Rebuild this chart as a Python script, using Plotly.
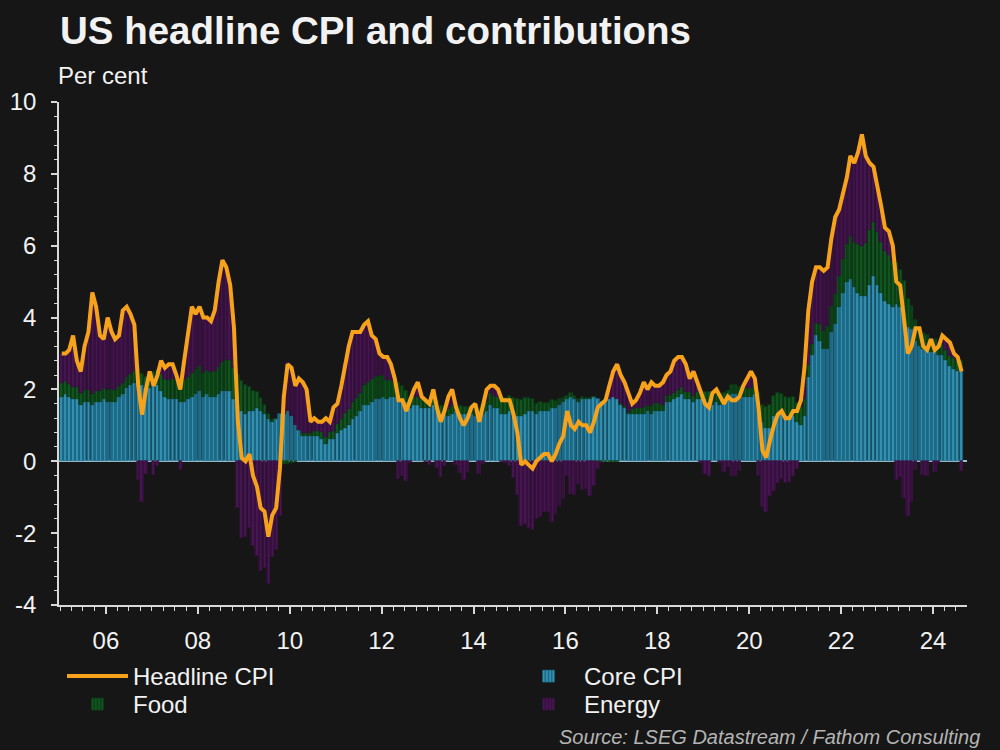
import pandas as pd
import plotly.graph_objects as go

# Monthly data, Jan 2005 - Aug 2024 (per cent, year-on-year)
headline = [
    3.0, 3.0, 3.1, 3.5, 2.8, 2.5, 3.2, 3.6, 4.7, 4.3, 3.5, 3.4,
    4.0, 3.6, 3.4, 3.5, 4.2, 4.3, 4.1, 3.8, 2.1, 1.3, 2.0, 2.5,
    2.1, 2.4, 2.8, 2.6, 2.7, 2.7, 2.4, 2.0, 2.8, 3.5, 4.3, 4.1,
    4.3, 4.0, 4.0, 3.9, 4.2, 5.0, 5.6, 5.4, 4.9, 3.7, 1.1, 0.1,
    0.0, 0.2, -0.4, -0.7, -1.3, -1.4, -2.1, -1.5, -1.3, -0.2, 1.8, 2.7,
    2.6, 2.1, 2.3, 2.2, 2.0, 1.1, 1.2, 1.1, 1.1, 1.2, 1.1, 1.5,
    1.6, 2.1, 2.7, 3.2, 3.6, 3.6, 3.6, 3.8, 3.9, 3.5, 3.4, 3.0,
    2.9, 2.9, 2.7, 2.3, 1.7, 1.7, 1.4, 1.7, 2.0, 2.2, 1.8, 1.7,
    1.6, 2.0, 1.5, 1.1, 1.4, 1.8, 2.0, 1.5, 1.2, 1.0, 1.2, 1.5,
    1.6, 1.1, 1.5, 2.0, 2.1, 2.1, 2.0, 1.7, 1.7, 1.7, 1.3, 0.8,
    -0.1, 0.0, -0.1, -0.2, 0.0, 0.1, 0.2, 0.2, 0.0, 0.2, 0.5, 0.7,
    1.4, 1.0, 0.9, 1.1, 1.0, 1.0, 0.8, 1.1, 1.5, 1.6, 1.7, 2.1,
    2.5, 2.7, 2.4, 2.2, 1.9, 1.6, 1.7, 1.9, 2.2, 2.0, 2.2, 2.1,
    2.1, 2.2, 2.4, 2.5, 2.8, 2.9, 2.9, 2.7, 2.3, 2.5, 2.2, 1.9,
    1.6, 1.5, 1.9, 2.0, 1.8, 1.6, 1.8, 1.7, 1.7, 1.8, 2.1, 2.3,
    2.5, 2.3, 1.5, 0.3, 0.1, 0.6, 1.0, 1.3, 1.4, 1.2, 1.2, 1.4,
    1.4, 1.7, 2.6, 4.2, 5.0, 5.4, 5.4, 5.3, 5.4, 6.2, 6.8, 7.0,
    7.5, 7.9, 8.5, 8.3, 8.6, 9.1, 8.5, 8.3, 8.2, 7.7, 7.1, 6.5,
    6.4, 6.0, 5.0, 4.9, 4.0, 3.0, 3.2, 3.7, 3.7, 3.2, 3.1, 3.4,
    3.1, 3.2, 3.5, 3.4, 3.3, 3.0, 2.9, 2.5,
]

core = [
    1.79, 1.87, 1.79, 1.72, 1.72, 1.56, 1.64, 1.64, 1.56, 1.64, 1.64, 1.72,
    1.64, 1.64, 1.64, 1.79, 1.87, 2.03, 2.11, 2.18, 2.26, 2.11, 2.03, 2.03,
    2.11, 2.11, 1.95, 1.79, 1.72, 1.72, 1.72, 1.64, 1.64, 1.72, 1.79, 1.87,
    1.95, 1.79, 1.87, 1.79, 1.79, 1.87, 1.95, 1.95, 1.95, 1.72, 1.56, 1.40,
    1.33, 1.40, 1.40, 1.48, 1.40, 1.33, 1.17, 1.09, 1.17, 1.33, 1.33, 1.40,
    1.25, 1.01, 0.86, 0.70, 0.70, 0.70, 0.70, 0.70, 0.62, 0.47, 0.62, 0.62,
    0.78, 0.86, 0.94, 1.01, 1.17, 1.25, 1.40, 1.56, 1.56, 1.64, 1.72, 1.72,
    1.79, 1.72, 1.79, 1.79, 1.79, 1.72, 1.64, 1.48, 1.56, 1.56, 1.48, 1.48,
    1.48, 1.56, 1.48, 1.33, 1.33, 1.25, 1.33, 1.40, 1.33, 1.33, 1.33, 1.33,
    1.25, 1.25, 1.33, 1.40, 1.56, 1.48, 1.48, 1.33, 1.33, 1.40, 1.33, 1.25,
    1.25, 1.33, 1.40, 1.40, 1.33, 1.40, 1.40, 1.40, 1.48, 1.48, 1.56, 1.64,
    1.72, 1.79, 1.72, 1.64, 1.72, 1.72, 1.72, 1.79, 1.72, 1.64, 1.64, 1.72,
    1.79, 1.72, 1.56, 1.48, 1.33, 1.33, 1.33, 1.33, 1.33, 1.40, 1.33, 1.40,
    1.40, 1.40, 1.64, 1.64, 1.72, 1.79, 1.87, 1.72, 1.72, 1.64, 1.72, 1.72,
    1.72, 1.64, 1.56, 1.64, 1.56, 1.64, 1.72, 1.87, 1.87, 1.79, 1.79, 1.79,
    1.79, 1.87, 1.64, 1.09, 0.94, 0.94, 1.25, 1.33, 1.33, 1.25, 1.25, 1.25,
    1.09, 1.01, 1.25, 2.34, 2.96, 3.51, 3.35, 3.12, 3.12, 3.59, 3.82, 4.29,
    4.68, 4.99, 5.07, 4.84, 4.68, 4.60, 4.60, 4.91, 5.15, 4.91, 4.68, 4.45,
    4.37, 4.29, 4.37, 4.29, 4.13, 3.74, 3.67, 3.35, 3.20, 3.12, 3.12, 3.04,
    3.04, 2.96, 2.96, 2.81, 2.65, 2.57, 2.50, 2.50,
]

food = [
    0.38, 0.36, 0.35, 0.36, 0.35, 0.34, 0.34, 0.35, 0.31, 0.32, 0.32, 0.32,
    0.35, 0.36, 0.34, 0.31, 0.31, 0.32, 0.31, 0.32, 0.36, 0.32, 0.31, 0.31,
    0.38, 0.42, 0.48, 0.50, 0.55, 0.57, 0.56, 0.59, 0.63, 0.62, 0.66, 0.69,
    0.69, 0.66, 0.66, 0.70, 0.71, 0.76, 0.81, 0.87, 0.88, 0.87, 0.85, 0.83,
    0.78, 0.67, 0.57, 0.46, 0.36, 0.25, 0.15, 0.07, 0.01, -0.04, -0.08, -0.07,
    -0.06, -0.01, 0.00, 0.08, 0.10, 0.10, 0.13, 0.14, 0.20, 0.20, 0.20, 0.21,
    0.25, 0.32, 0.41, 0.45, 0.49, 0.52, 0.50, 0.57, 0.64, 0.66, 0.64, 0.66,
    0.62, 0.55, 0.46, 0.43, 0.39, 0.38, 0.32, 0.28, 0.22, 0.24, 0.25, 0.25,
    0.22, 0.22, 0.21, 0.21, 0.20, 0.20, 0.20, 0.20, 0.20, 0.18, 0.17, 0.15,
    0.20, 0.20, 0.24, 0.28, 0.35, 0.34, 0.32, 0.39, 0.42, 0.42, 0.43, 0.48,
    0.45, 0.42, 0.36, 0.32, 0.27, 0.25, 0.22, 0.22, 0.22, 0.20, 0.18, 0.11,
    0.10, 0.11, 0.11, 0.10, 0.08, 0.04, 0.04, 0.01, -0.03, -0.03, -0.03, -0.03,
    -0.01, -0.01, 0.07, 0.07, 0.03, 0.13, 0.15, 0.15, 0.17, 0.18, 0.20, 0.22,
    0.22, 0.18, 0.18, 0.20, 0.17, 0.20, 0.20, 0.20, 0.20, 0.17, 0.20, 0.22,
    0.22, 0.28, 0.29, 0.27, 0.28, 0.27, 0.25, 0.24, 0.25, 0.29, 0.28, 0.25,
    0.25, 0.25, 0.27, 0.49, 0.56, 0.63, 0.57, 0.57, 0.55, 0.55, 0.52, 0.55,
    0.53, 0.50, 0.49, 0.34, 0.31, 0.34, 0.48, 0.52, 0.64, 0.74, 0.85, 0.88,
    0.95, 1.07, 1.19, 1.27, 1.36, 1.40, 1.47, 1.54, 1.51, 1.47, 1.43, 1.40,
    1.36, 1.28, 1.15, 1.04, 0.90, 0.77, 0.66, 0.58, 0.50, 0.45, 0.39, 0.36,
    0.35, 0.30, 0.30, 0.30, 0.28, 0.30, 0.30, 0.28,
]

energy = [
    0.83, 0.77, 0.96, 1.42, 0.73, 0.60, 1.22, 1.61, 2.83, 2.34, 1.54, 1.36,
    2.01, 1.60, 1.42, 1.40, 2.02, 1.95, 1.68, 1.30, -0.52, -1.13, -0.34, 0.16,
    -0.39, -0.13, 0.37, 0.31, 0.43, 0.41, 0.12, -0.23, 0.53, 1.16, 1.85, 1.54,
    1.66, 1.55, 1.47, 1.41, 1.70, 2.37, 2.84, 2.58, 2.07, 1.11, -1.31, -2.13,
    -2.11, -1.87, -2.37, -2.64, -3.06, -2.98, -3.42, -2.66, -2.48, -1.49, 0.55, 1.37,
    1.41, 1.10, 1.44, 1.42, 1.20, 0.30, 0.37, 0.26, 0.28, 0.53, 0.28, 0.67,
    0.57, 0.92, 1.35, 1.74, 1.94, 1.83, 1.70, 1.67, 1.70, 1.20, 1.04, 0.62,
    0.49, 0.63, 0.45, 0.08, -0.48, -0.40, -0.56, -0.06, 0.22, 0.40, 0.07, -0.03,
    -0.10, 0.22, -0.19, -0.44, -0.13, 0.35, 0.47, -0.10, -0.33, -0.51, -0.30, 0.02,
    0.15, -0.35, -0.07, 0.32, 0.19, 0.28, 0.20, -0.02, -0.05, -0.12, -0.46, -0.93,
    -1.80, -1.75, -1.86, -1.92, -1.60, -1.55, -1.42, -1.42, -1.70, -1.48, -1.24, -1.05,
    -0.42, -0.90, -0.93, -0.64, -0.80, -0.76, -0.96, -0.70, -0.19, -0.01, 0.09, 0.41,
    0.72, 0.99, 0.77, 0.65, 0.54, 0.14, 0.22, 0.42, 0.70, 0.42, 0.67, 0.48,
    0.48, 0.62, 0.58, 0.66, 0.91, 0.91, 0.83, 0.78, 0.38, 0.69, 0.28, -0.04,
    -0.34, -0.42, 0.05, 0.09, -0.04, -0.31, -0.17, -0.41, -0.42, -0.28, 0.03, 0.26,
    0.46, 0.18, -0.41, -1.28, -1.40, -0.97, -0.82, -0.60, -0.48, -0.60, -0.57, -0.40,
    -0.22, 0.19, 0.86, 1.52, 1.73, 1.55, 1.57, 1.66, 1.64, 1.87, 2.13, 1.83,
    1.87, 1.84, 2.24, 2.19, 2.56, 3.10, 2.43, 1.85, 1.54, 1.32, 0.99, 0.65,
    0.67, 0.43, -0.52, -0.43, -1.03, -1.51, -1.13, -0.23, 0.00, -0.37, -0.41, 0.00,
    -0.29, -0.06, 0.24, 0.29, 0.37, 0.13, 0.10, -0.28,
]

y_tick_values = [-4, -2, 0, 2, 4, 6, 8, 10]
y_tick_labels = ["-4", "-2", "0", "2", "4", "6", "8", "10"]

start_month = "2005-01-01"
dates = pd.date_range(start_month, periods=len(headline), freq="MS") + pd.Timedelta(days=14)

BG = "#161616"
TXT = "#f2f2f2"
AX = "#d8d8d8"
FONT = "Liberation Sans, Arial, sans-serif"

def bar(name, vals, dark, light, legend):
    return go.Bar(
        x=dates, y=vals, name=name, legend=legend,
        marker=dict(
            color=dark,
            line=dict(width=0.6, color=dark),
            pattern=dict(shape="|", fgcolor=light, bgcolor=dark, size=4, solidity=0.5),
        ),
    )

fig = go.Figure()
fig.add_trace(go.Scatter(x=dates, y=headline, name="Headline CPI", mode="lines",
                         line=dict(color="#f7a21b", width=4), legend="legend"))
fig.add_trace(bar("Core CPI", core, "#1d6a88", "#4cb6d8", "legend2"))
fig.add_trace(bar("Food", food, "#0b4016", "#1b6a2a", "legend3"))
fig.add_trace(bar("Energy", energy, "#37103f", "#571b63", "legend4"))

legend_common = dict(orientation="h", xanchor="left", yanchor="top",
                     font=dict(size=24, color=TXT), bgcolor="rgba(0,0,0,0)",
                     itemwidth=61, tracegroupgap=0)
col1_x = 3 / 908
col2_x = (513 - 59) / 908
row1_y = -(654 - 605) / 503
row2_y = -(682 - 605) / 503

fig.update_layout(
    width=1000, height=750,
    paper_bgcolor=BG, plot_bgcolor=BG,
    font=dict(family=FONT, color=TXT, size=24),
    barmode="relative", bargap=0,
    margin=dict(l=59, r=33, t=102, b=145, autoexpand=False),
    title=dict(text="<b>US headline CPI and contributions</b>", x=0.06, xanchor="left",
               y=1 - 31 / 750, yanchor="middle", yref="container",
               font=dict(size=38.5, color=TXT, family=FONT)),
    showlegend=True,
    legend=dict(legend_common, x=col1_x, y=row1_y),
    legend2=dict(legend_common, x=col2_x, y=row1_y),
    legend3=dict(legend_common, x=col1_x, y=row2_y),
    legend4=dict(legend_common, x=col2_x, y=row2_y),
    annotations=[
        dict(text="Per cent", xref="paper", yref="paper", x=-3 / 908, y=1 + 27 / 503,
             xanchor="left", yanchor="middle", showarrow=False,
             font=dict(size=24, color=TXT)),
        dict(text="<i>Source: LSEG Datastream / Fathom Consulting</i>", xref="paper", yref="paper",
             x=(982 - 59) / 908, y=-(737 - 605) / 503, xanchor="right", yanchor="middle",
             showarrow=False, font=dict(size=20, color="#b4b4b4")),
    ],
)

fig.update_xaxes(
    type="date", range=["2004-12-24", "2024-09-27"],
    tick0="2006-01-01", dtick="M24", tickformat="%y",
    ticks="outside", ticklen=7, tickcolor=AX, tickwidth=1.5,
    showline=True, linecolor=AX, linewidth=1.5,
    showgrid=False, zeroline=False, ticklabelstandoff=6,
    minor=dict(dtick="M3", tick0="2006-01-01", ticks="outside", ticklen=4,
               tickcolor=AX, tickwidth=1, showgrid=False),
    tickfont=dict(size=24, color=TXT),
)
fig.update_yaxes(
    range=[-4, 10], tickmode="array", tickvals=y_tick_values, ticktext=y_tick_labels,
    ticks="outside", ticklen=6, tickcolor=AX, tickwidth=1.5,
    showline=True, linecolor=AX, linewidth=1.5,
    showgrid=False, zeroline=True, zerolinecolor="#9fc0cf", zerolinewidth=1.5,
    ticklabelstandoff=10,
    minor=dict(dtick=0.4, tick0=0, ticks="outside", ticklen=3,
               tickcolor=AX, tickwidth=1, showgrid=False),
    tickfont=dict(size=24, color=TXT),
    layer="above traces",
)

fig.write_html("out.html")
